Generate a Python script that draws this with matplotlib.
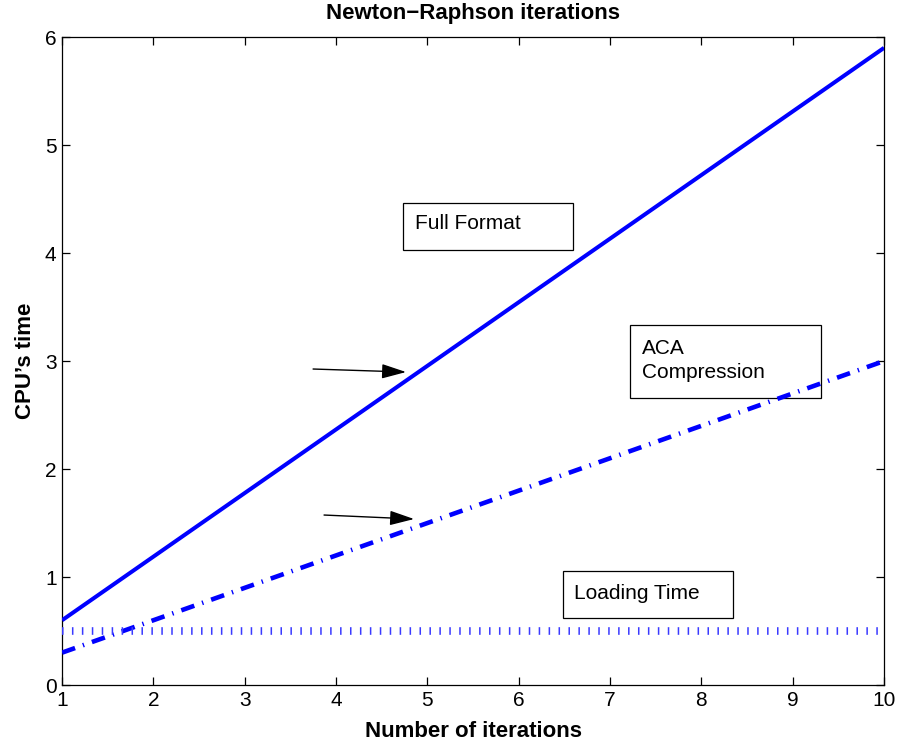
import numpy as np
import matplotlib.pyplot as plt

plt.rcParams['font.family'] = ['Liberation Sans', 'DejaVu Sans']

# --- Data ---
iterations = [1, 10]
full_format = [0.6, 5.9]
aca_compression = [0.3, 3.0]
loading_time = [0.5, 0.5]

x_ticks = list(range(1, 11))
y_ticks = list(range(0, 7))

# --- Figure ---
fig = plt.figure(figsize=(9, 7.45), dpi=100)
ax = fig.add_axes([0.069, 0.0805, 0.9133, 0.8698])

ax.plot(iterations, full_format, color='blue', linewidth=2.9,
        solid_capstyle='butt', zorder=3)
ax.plot(iterations, aca_compression, color='blue', linewidth=3.3,
        linestyle=(0, (3.0, 1.8, 0.3, 1.8)), dash_capstyle='butt', zorder=3)
# MATLAB-style dotted line shows up as short vertical bars
ax.plot(iterations, loading_time, color='#3a3aff', linewidth=5.5,
        linestyle=(0, (0.2, 1.1)), dash_capstyle='butt', zorder=3)

# --- Annotation boxes ---
box_kw = dict(facecolor='white', edgecolor='black', linewidth=0.9, zorder=1.5)
ax.add_patch(plt.Rectangle((4.73, 4.03), 1.865, 0.43, **box_kw))
ax.text(4.865, 4.27, 'Full Format', fontsize=15, va='center', zorder=4)

ax.add_patch(plt.Rectangle((7.22, 2.66), 2.09, 0.67, **box_kw))
ax.text(7.35, 3.12, 'ACA', fontsize=15, va='center', zorder=4)
ax.text(7.35, 2.89, 'Compression', fontsize=15, va='center', zorder=4)

ax.add_patch(plt.Rectangle((6.485, 0.62), 1.86, 0.436, **box_kw))
ax.text(6.61, 0.85, 'Loading Time', fontsize=15, va='center', zorder=4)

arrow_kw = dict(arrowstyle='-|>,head_length=1.5,head_width=0.45', color='black',
                linewidth=1.0, shrinkA=0, shrinkB=0)
ax.annotate('', xy=(4.766, 2.898), xytext=(3.748, 2.926), arrowprops=arrow_kw)
ax.annotate('', xy=(4.854, 1.537), xytext=(3.868, 1.574), arrowprops=arrow_kw)

# --- Axes styling ---
ax.set_xlim(1, 10)
ax.set_ylim(0, 6)
ax.set_xticks(x_ticks)
ax.set_yticks(y_ticks)
ax.tick_params(direction='in', top=True, right=True, length=6, width=0.9,
               labelsize=15, pad=4)
for spine in ax.spines.values():
    spine.set_linewidth(0.9)

ax.set_title('Newton\u2212Raphson iterations', fontsize=16, fontweight='bold', pad=13)
ax.set_xlabel('Number of iterations', fontsize=16, fontweight='bold', labelpad=8)
ax.set_ylabel('CPU\u2019s time', fontsize=16, fontweight='bold', labelpad=6)

fig.savefig('out.png', dpi=100)
